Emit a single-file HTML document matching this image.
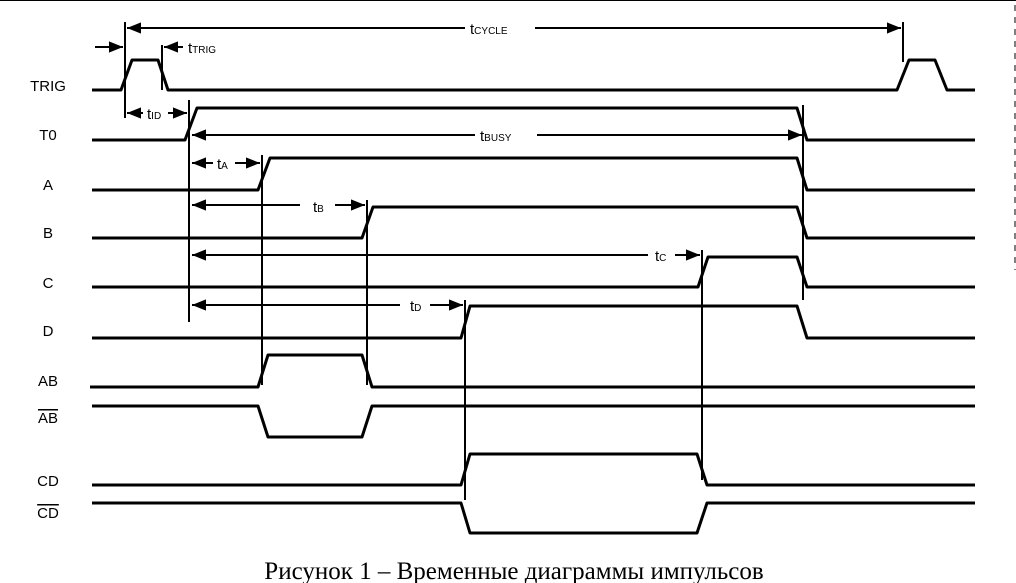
<!DOCTYPE html>
<html><head><meta charset="utf-8"><style>
html,body{margin:0;padding:0;background:#fff;}
svg{display:block;}
text{font-family:"Liberation Sans",sans-serif;fill:#000;}
</style></head><body>
<svg width="1016" height="583" viewBox="0 0 1016 583" xmlns="http://www.w3.org/2000/svg">
<defs>
<marker id="a" viewBox="0 0 10 10" refX="10" refY="5" markerWidth="7" markerHeight="7" orient="auto-start-reverse"><path d="M0,1 L10,5 L0,9z" fill="#000"/></marker>
</defs>
<line x1="0" y1="0.5" x2="1016" y2="0.5" stroke="#000" stroke-width="1"/>
<line x1="1015" y1="5" x2="1015" y2="270" stroke="#000" stroke-width="1" stroke-dasharray="6,6"/>
<g fill="none" stroke="#000" stroke-width="3" stroke-linejoin="round">
<polyline points="92,90 121,90 132,60 158,60 168,90 398,90 897,90 909,60 935,60 947,90 975,90"/>
<polyline points="92,140 185,140 197,108 797,108 807,140 975,140"/>
<polyline points="92,190 258,190 270,158 797,158 807,190 975,190"/>
<polyline points="92,238 362,238 373,207 797,207 807,238 975,238"/>
<polyline points="92,287 698,287 708,257 797,257 807,287 975,287"/>
<polyline points="92,338 461,338 470,306 797,306 807,338 975,338"/>
<polyline points="90,387 258,387 268,355 362,355 372,387 975,387"/>
<polyline points="92,406 258,406 268,437 362,437 372,406 975,406"/>
<polyline points="92,485 461,485 470,454 697,454 707,485 975,485"/>
<polyline points="92,503 461,503 470,533 697,533 707,503 975,503"/>
</g>
<g stroke="#000" stroke-width="2" fill="none">
<line x1="125" y1="22" x2="125" y2="118"/>
<line x1="903" y1="22" x2="903" y2="62"/>
<line x1="162" y1="45" x2="162" y2="90"/>
<line x1="189" y1="100" x2="189" y2="322"/>
<line x1="803" y1="105" x2="803" y2="300"/>
<line x1="262" y1="155" x2="262" y2="385"/>
<line x1="367" y1="200" x2="367" y2="385"/>
<line x1="702" y1="250" x2="702" y2="480"/>
<line x1="465" y1="300" x2="465" y2="500"/>
<g marker-end="url(#a)">
<line x1="465" y1="28" x2="127" y2="28"/>
<line x1="535" y1="28" x2="901" y2="28"/>
<line x1="95" y1="47" x2="123" y2="47"/>
<line x1="183" y1="47" x2="164" y2="47"/>
<line x1="143" y1="113" x2="127" y2="113"/>
<line x1="168" y1="113" x2="187" y2="113"/>
<line x1="475" y1="135" x2="192" y2="135"/>
<line x1="537" y1="135" x2="802" y2="135"/>
<line x1="213" y1="163" x2="192" y2="163"/>
<line x1="235" y1="163" x2="260" y2="163"/>
<line x1="300" y1="205" x2="192" y2="205"/>
<line x1="335" y1="205" x2="365" y2="205"/>
<line x1="648" y1="255" x2="192" y2="255"/>
<line x1="675" y1="255" x2="700" y2="255"/>
<line x1="400" y1="305" x2="192" y2="305"/>
<line x1="430" y1="305" x2="463" y2="305"/>
</g>
</g>
<g font-size="15">
<text x="470" y="34">t<tspan font-size="10">CYCLE</tspan></text>
<text x="188" y="53">t<tspan font-size="10">TRIG</tspan></text>
<text x="147" y="119">t<tspan font-size="10">ID</tspan></text>
<text x="480" y="141">t<tspan font-size="10">BUSY</tspan></text>
<text x="217" y="169">t<tspan font-size="10">A</tspan></text>
<text x="313" y="212">t<tspan font-size="10">B</tspan></text>
<text x="655" y="261">t<tspan font-size="10">C</tspan></text>
<text x="410" y="311">t<tspan font-size="10">D</tspan></text>
</g>
<g font-size="15" text-anchor="middle">
<text x="48" y="91">TRIG</text>
<text x="48" y="140">T0</text>
<text x="48" y="190">A</text>
<text x="48" y="238">B</text>
<text x="48" y="288">C</text>
<text x="48" y="336">D</text>
<text x="48" y="386">AB</text>
<text x="48" y="423" text-decoration="overline">AB</text>
<text x="48" y="486">CD</text>
<text x="48" y="518" text-decoration="overline">CD</text>
</g>
<text x="514" y="579" text-anchor="middle" font-size="25" style="font-family:'Liberation Serif',serif">Рисунок 1 – Временные диаграммы импульсов</text>
</svg>
</body></html>
